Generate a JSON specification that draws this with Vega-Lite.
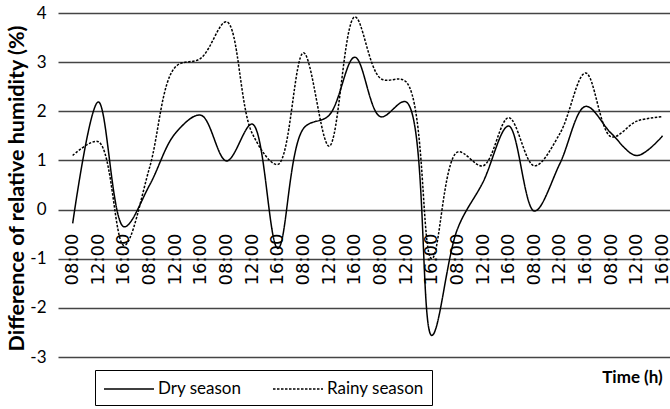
{
  "$schema": "https://vega.github.io/schema/vega-lite/v6.json",
  "width": 612,
  "height": 344,
  "autosize": {"type": "none"},
  "padding": {"left": 58, "top": 13, "right": 0, "bottom": 52},
  "background": "white",
  "config": {"view": {"stroke": null}},
  "data": {
    "values": [
      {"i": 0, "v": -0.28, "series": "Dry season"},
      {"i": 1, "v": 2.19, "series": "Dry season"},
      {"i": 2, "v": -0.35, "series": "Dry season"},
      {"i": 3, "v": 0.5, "series": "Dry season"},
      {"i": 4, "v": 1.55, "series": "Dry season"},
      {"i": 5, "v": 1.92, "series": "Dry season"},
      {"i": 6, "v": 0.99, "series": "Dry season"},
      {"i": 7, "v": 1.74, "series": "Dry season"},
      {"i": 8, "v": -0.79, "series": "Dry season"},
      {"i": 9, "v": 1.65, "series": "Dry season"},
      {"i": 10, "v": 1.92, "series": "Dry season"},
      {"i": 11, "v": 3.1, "series": "Dry season"},
      {"i": 12, "v": 1.89, "series": "Dry season"},
      {"i": 13, "v": 2.19, "series": "Dry season"},
      {"i": 14, "v": -2.56, "series": "Dry season"},
      {"i": 15, "v": -0.4, "series": "Dry season"},
      {"i": 16, "v": 0.56, "series": "Dry season"},
      {"i": 17, "v": 1.7, "series": "Dry season"},
      {"i": 18, "v": -0.03, "series": "Dry season"},
      {"i": 19, "v": 0.94, "series": "Dry season"},
      {"i": 20, "v": 2.1, "series": "Dry season"},
      {"i": 21, "v": 1.55, "series": "Dry season"},
      {"i": 22, "v": 1.1, "series": "Dry season"},
      {"i": 23, "v": 1.5, "series": "Dry season"},
      {"i": 0, "v": 1.1, "series": "Rainy season"},
      {"i": 1, "v": 1.38, "series": "Rainy season"},
      {"i": 2, "v": -0.73, "series": "Rainy season"},
      {"i": 3, "v": 0.86, "series": "Rainy season"},
      {"i": 4, "v": 2.9, "series": "Rainy season"},
      {"i": 5, "v": 3.08, "series": "Rainy season"},
      {"i": 6, "v": 3.82, "series": "Rainy season"},
      {"i": 7, "v": 1.55, "series": "Rainy season"},
      {"i": 8, "v": 0.92, "series": "Rainy season"},
      {"i": 9, "v": 3.19, "series": "Rainy season"},
      {"i": 10, "v": 1.29, "series": "Rainy season"},
      {"i": 11, "v": 3.92, "series": "Rainy season"},
      {"i": 12, "v": 2.67, "series": "Rainy season"},
      {"i": 13, "v": 2.6, "series": "Rainy season"},
      {"i": 14, "v": -1.0, "series": "Rainy season"},
      {"i": 15, "v": 1.17, "series": "Rainy season"},
      {"i": 16, "v": 0.89, "series": "Rainy season"},
      {"i": 17, "v": 1.87, "series": "Rainy season"},
      {"i": 18, "v": 0.89, "series": "Rainy season"},
      {"i": 19, "v": 1.55, "series": "Rainy season"},
      {"i": 20, "v": 2.78, "series": "Rainy season"},
      {"i": 21, "v": 1.48, "series": "Rainy season"},
      {"i": 22, "v": 1.8, "series": "Rainy season"},
      {"i": 23, "v": 1.89, "series": "Rainy season"}
    ]
  },
  "mark": {"type": "line", "interpolate": "catmull-rom", "color": "black", "strokeWidth": 1.5},
  "encoding": {
    "x": {
      "field": "i",
      "type": "quantitative",
      "scale": {"domain": [-0.573, 23.29], "nice": false, "zero": false},
      "axis": {
        "values": [0,1,2,3,4,5,6,7,8,9,10,11,12,13,14,15,16,17,18,19,20,21,22,23],
        "labelExpr": "['08:00','12:00','16:00'][datum.value % 3]",
        "labelAngle": -90,
        "labelAlign": "right",
        "labelBaseline": "middle",
        "labelFont": "DejaVu Sans",
        "labelFontSize": 18,
        "labelColor": "black",
        "labelOverlap": false,
        "labelFlush": false,
        "labelBound": false,
        "ticks": false,
        "domain": false,
        "grid": false,
        "labelPadding": 2,
        "offset": -126,
        "title": "Time (h)",
        "titleFont": "Lato",
        "titleFontSize": 17,
        "titleFontWeight": "bold",
        "titleColor": "black",
        "titleX": 574,
        "titleY": 146,
        "titleAlign": "center",
        "titleBaseline": "middle"
      }
    },
    "y": {
      "field": "v",
      "type": "quantitative",
      "scale": {"domain": [-3, 4], "nice": false},
      "axis": {
        "values": [-3, -2, -1, 0, 1, 2, 3, 4],
        "labelExpr": "datum.value < 0 ? '-' + abs(datum.value) : '' + datum.value",
        "grid": true,
        "gridColor": "#444444",
        "gridWidth": 1.3,
        "ticks": false,
        "domain": false,
        "labelFont": "Lato",
        "labelFontSize": 17,
        "labelColor": "black",
        "labelPadding": 12,
        "title": "Difference of relative humidity (%)",
        "titleFont": "Lato",
        "titleFontSize": 21.5,
        "titleFontWeight": "bold",
        "titleColor": "black",
        "titleAngle": -90,
        "titleX": -41,
        "titleY": 175,
        "titleAlign": "center",
        "titleBaseline": "middle"
      }
    },
    "strokeDash": {
      "field": "series",
      "type": "nominal",
      "scale": {"domain": ["Dry season", "Rainy season"], "range": [[1, 0], [2.5, 1.5]]},
      "legend": {
        "orient": "none",
        "legendX": 37,
        "legendY": 357,
        "direction": "horizontal",
        "title": null,
        "strokeColor": "black",
        "fillColor": "white",
        "padding": 8,
        "symbolType": "M-2.5,0H2.5",
        "symbolSize": 400,
        "symbolOffset": 15,
        "symbolStrokeWidth": 1.3,
        "symbolStrokeColor": "black",
        "labelFont": "Lato",
        "labelFontSize": 17,
        "labelColor": "black",
        "labelOffset": 18,
        "columnPadding": 28
      }
    }
  }
}
